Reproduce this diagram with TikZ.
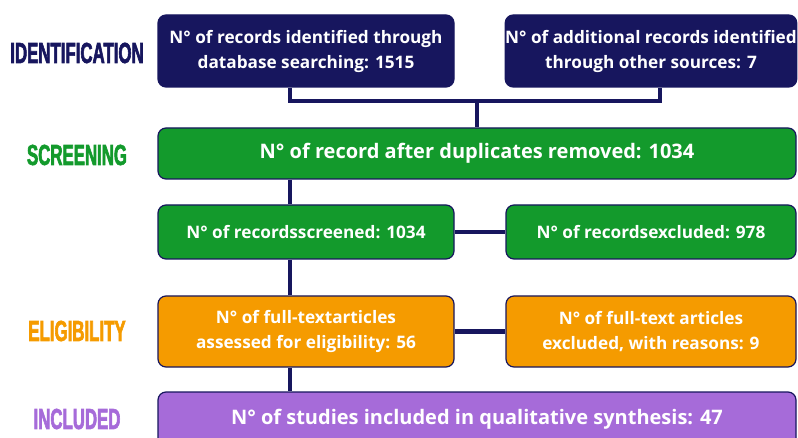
\documentclass[tikz,border=0pt]{standalone}
\usepackage{fontspec}
\setmainfont{Open Sans}
\newfontfamily\headfont[FakeStretch=0.58,FakeBold=2]{Liberation Sans}
\usepackage{tikz}

\definecolor{bleunuit}{HTML}{17165E}
\definecolor{vertbox}{HTML}{139A2C}
\definecolor{orangebox}{HTML}{F59B00}
\definecolor{violetbox}{HTML}{A66BD9}

\begin{document}
\begin{tikzpicture}[x=1pt,y=-1pt,line width=4.5pt,draw=bleunuit,
   boite/.style={rectangle,draw=bleunuit,line width=1.2pt,rounded corners=8pt,text=white,
     font=\bfseries\fontsize{17.2}{25}\selectfont,align=center,inner sep=0pt},
   etroite/.style={boite,minimum width=296pt},
   large/.style={boite,minimum width=638pt,font=\bfseries\fontsize{20}{24}\selectfont},
   phase/.style={font=\headfont\bfseries\fontsize{29}{30}\selectfont}]

  \useasboundingbox (0,0) rectangle (798,438);

  \node[phase,text=bleunuit] (lid) at (77,53) {IDENTIFICATION};
  \node[phase,text=vertbox] (lscr) at (77,155) {SCREENING};
  \node[phase,text=orangebox] (lelig) at (77,331) {ELIGIBILITY};
  \node[phase,text=violetbox] (lincl) at (77,419) {INCLUDED};

  \node[etroite,fill=bleunuit,minimum height=72pt] (id1) at (306,51) {N° of records identified through\\database searching: 1515};
  \node[etroite,fill=bleunuit,minimum height=72pt,minimum width=290pt] (id2) at (651,51) {N° of additional records identified\\through other sources: 7};
  \node[large,fill=vertbox,minimum height=51pt] (dup) at (477,153.5) {N° of record after duplicates removed: 1034};
  \node[etroite,fill=vertbox,minimum height=54pt] (scr) at (306,232) {N° of recordsscreened: 1034};
  \node[etroite,fill=vertbox,minimum height=54pt,minimum width=290pt] (exc) at (651,232) {N° of recordsexcluded: 978};
  \node[etroite,fill=orangebox,minimum height=71pt] (elig) at (306,331.5) {N° of full-textarticles\\assessed for eligibility: 56};
  \node[etroite,fill=orangebox,minimum height=71pt,minimum width=290pt] (fexc) at (651,331.5) {N° of full-text articles\\excluded, with reasons: 9};
  \node[large,fill=violetbox,minimum height=54pt] (incl) at (477,419) {N° of studies included in qualitative synthesis: 47};

  \coordinate (tronc) at (290,0);
  \coordinate (bras) at (660,0);
  \coordinate (jonction) at (477,101);

  \draw (id1.south -| tronc) |- (jonction) -| (id2.south -| bras);
  \draw (jonction) -- (dup.north -| jonction);
  \foreach \haut/\bas in {dup/scr,scr/elig,elig/incl} \draw (\haut.south -| tronc) -- (\bas.north -| tronc);
  \foreach \gauche/\droite in {scr/exc,elig/fexc} \draw (\gauche) -- (\droite);
\end{tikzpicture}
\end{document}
